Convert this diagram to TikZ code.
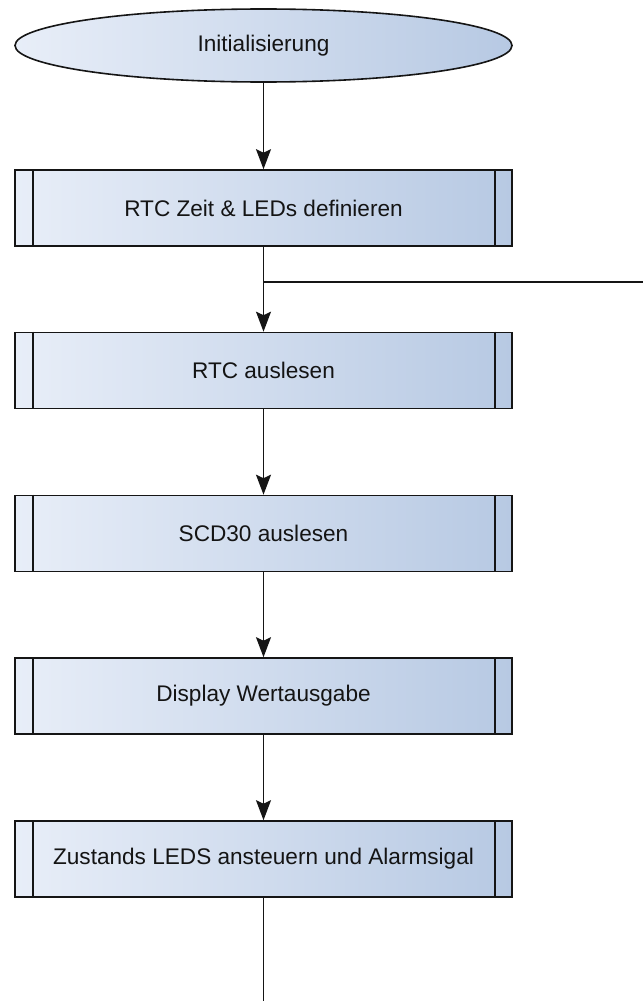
\documentclass[tikz,border=0pt]{standalone}
\usepackage{fontspec}
\setmainfont{Liberation Sans}
\usetikzlibrary{shapes.geometric,arrows.meta}
\definecolor{gradL}{HTML}{E8EEF8}
\definecolor{gradR}{HTML}{B7C9E3}
\definecolor{edge}{HTML}{151515}
\tikzset{
  flowtext/.style={font=\fontsize{22.6}{27}\selectfont, text=black!92},
  startshape/.style={ellipse, draw=edge, line width=1.6pt, left color=gradL, right color=gradR,
    minimum width=497pt, minimum height=73pt, inner sep=0pt, flowtext},
  procbox/.style={rectangle, draw=edge, line width=1.6pt, left color=gradL, right color=gradR,
    minimum width=497pt, minimum height=76pt, inner sep=0pt, flowtext},
  sideline/.style={draw=edge, line width=1.6pt},
  flow/.style={draw=edge, line width=1.4pt},
  flowarrow/.style={flow, -{Stealth[length=20pt,width=15pt,inset=3.5pt]}}
}
\newcommand{\sidebars}[1]{%
  \draw[sideline] ([xshift=19pt]#1.north west) -- ([xshift=19pt]#1.south west);
  \draw[sideline] ([xshift=-18pt]#1.north east) -- ([xshift=-18pt]#1.south east);}
\begin{document}
\begin{tikzpicture}[x=1pt,y=-1pt]
\useasboundingbox (0,0) rectangle (643,1001);
\node[startshape] (init) at (263.5,45.5) {Initialisierung};
\node[procbox] (b1) at (263.5,208) {RTC Zeit \& LEDs definieren};
\node[procbox] (b2) at (263.5,370.5) {RTC auslesen};
\node[procbox] (b3) at (263.5,533.5) {SCD30 auslesen};
\node[procbox] (b4) at (263.5,696) {Display Wertausgabe};
\node[procbox] (b5) at (263.5,859) {Zustands LEDS ansteuern und Alarmsigal};
\sidebars{b1}\sidebars{b2}\sidebars{b3}\sidebars{b4}\sidebars{b5}
\coordinate (junc) at (263.5,282);
\coordinate (loopin) at (643,282);
\coordinate (bottom) at (263.5,1001);
\draw[flowarrow] (init.south) -- (b1.north);
\draw[flowarrow] (b1.south) -- (b2.north);
\draw[flow] (junc) -- (loopin);
\draw[flowarrow] (b2.south) -- (b3.north);
\draw[flowarrow] (b3.south) -- (b4.north);
\draw[flowarrow] (b4.south) -- (b5.north);
\draw[flow] (b5.south) -- (bottom);
\end{tikzpicture}
\end{document}
